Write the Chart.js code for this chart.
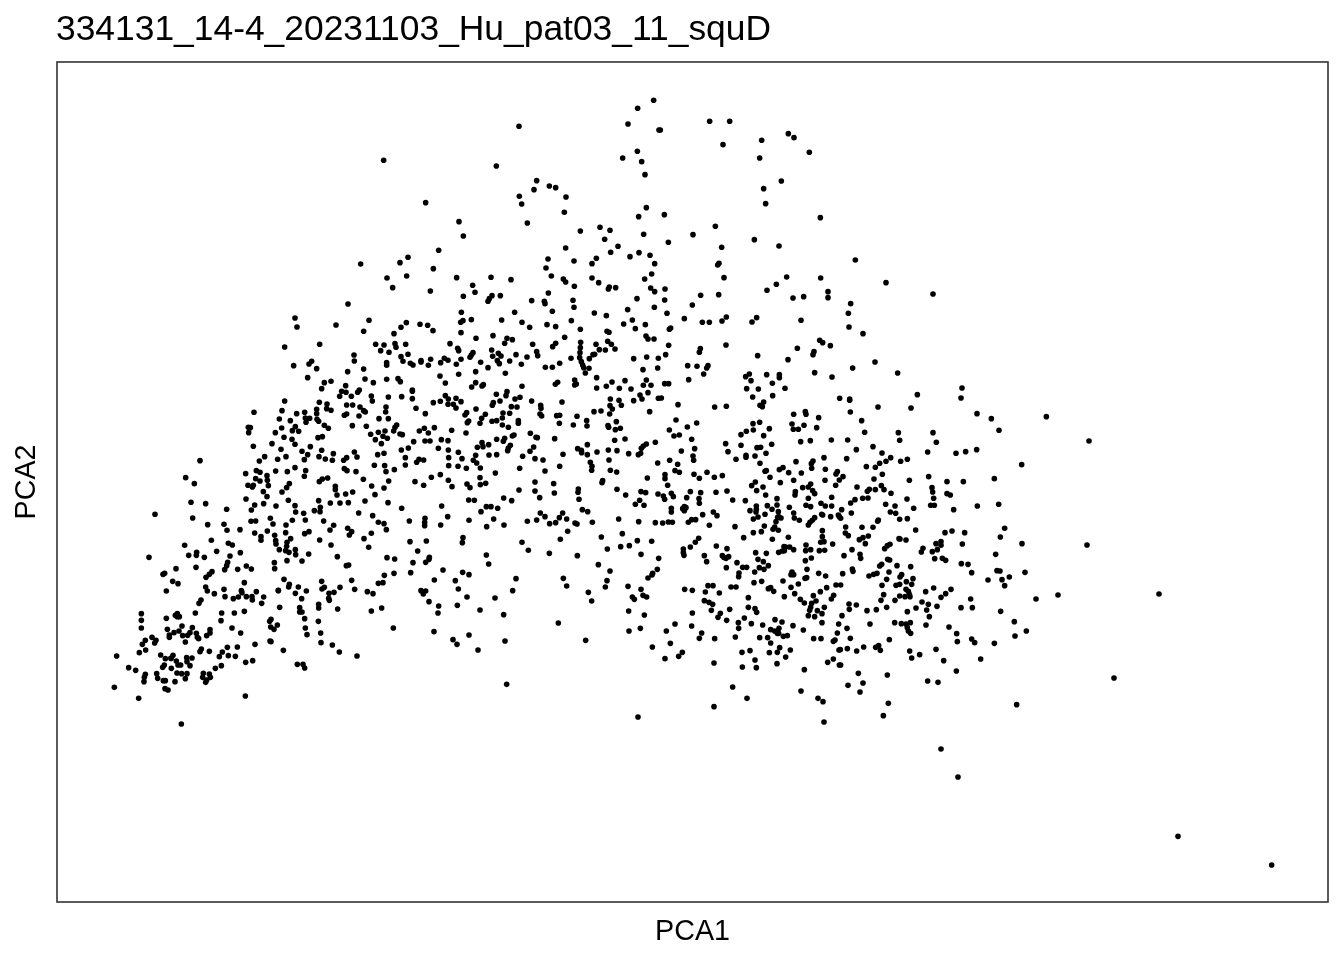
<!DOCTYPE html>
<html>
<head>
<meta charset="utf-8">
<style>html,body{margin:0;padding:0;background:#fff}canvas{display:block}</style>
<script src="https://cdn.jsdelivr.net/npm/chart.js@4"></script>
</head>
<body>
<canvas id="c" width="1344" height="960"></canvas>
<script>
const chartTitle = "334131_14-4_20231103_Hu_pat03_11_squD";
const xLabel = "PCA1";
const yLabel = "PCA2";
// [PCA1, PCA2] readings from the picture (arbitrary units: axes carry no ticks)
const leftWing = [[683,1665],[788,1673],[956,1673],[981,1671],[971,1654],[996,1649],[891,1641],[892,1623],[710,1609],[756,1614],[764,1622],[779,1600],[989,1618],[989,1610],[920,1599],[872,1591],[752,1573],[924,1569],[989,1568],[802,1558],[822,1562],[949,1558],[866,1549],[794,1540],[854,1532],[867,1529],[907,1536],[902,1529],[848,1517],[883,1517],[943,1518],[946,1503],[994,1515],[683,1503],[787,1499],[869,1491],[887,1491],[810,1494],[809,1480],[822,1475],[909,1485],[920,1474],[925,1470],[987,1485],[986,1470],[591,1469],[675,1474],[719,1465],[743,1469],[779,1478],[779,1465],[869,1464],[862,1460],[906,1458],[966,1450],[994,1450],[667,1449],[700,1444],[745,1452],[758,1451],[747,1439],[780,1448],[785,1442],[802,1430],[814,1421],[886,1429],[928,1427],[574,1424],[580,1423],[575,1408],[655,1408],[674,1422],[715,1426],[706,1414],[725,1412],[941,1403],[964,1409],[984,1413],[978,1397],[991,1391],[681,1394],[783,1393],[796,1396],[705,1388],[955,1387],[973,1375],[645,1375],[714,1373],[589,1367],[760,1366],[672,1358],[735,1352],[794,1355],[752,1342],[829,1345],[981,1346],[962,1342],[892,1350],[900,1335],[623,1336],[687,1336],[662,1328],[786,1336],[805,1329],[826,1325],[869,1333],[860,1325],[742,1327],[607,1323],[429,1324],[952,1310],[983,1309],[714,1303],[862,1300],[870,1294],[897,1291],[598,1294],[609,1289],[656,1293],[691,1291],[746,1294],[987,1291],[566,1285],[630,1279],[742,1277],[919,1268],[386,1273],[596,1270],[609,1263],[631,1265],[812,1272],[796,1269],[787,1261],[995,1263],[412,1255],[573,1250],[589,1250],[586,1245],[634,1249],[697,1255],[689,1243],[835,1247],[835,1237],[944,1248],[981,1242],[619,1231],[675,1230],[887,1230],[866,1224],[840,1221],[954,1222],[630,1216],[567,1209],[402,1199],[446,1195],[694,1205],[785,1204],[924,1203],[993,1198],[620,1195],[593,1191],[657,1188],[714,1189],[820,1197],[849,1197],[874,1198],[509,1178],[583,1176],[790,1184],[772,1174],[789,1171],[716,1170],[740,1166],[294,1163],[905,1167],[947,1159],[407,1152],[640,1151],[582,1142],[596,1143],[706,1145],[745,1146],[800,1143],[964,1139],[981,1135],[452,1132],[501,1133],[648,1134],[687,1131],[830,1130],[510,1115],[549,1117],[819,1116],[872,1121],[884,1111],[988,1117],[631,1113],[593,1107],[686,1108],[743,1105],[756,1111],[877,1101],[943,1106],[653,1100],[612,1096],[612,1085],[701,1090],[788,1086],[921,1090],[463,1085],[656,1084],[657,1074],[690,1079],[514,1076],[526,1071],[383,1070],[822,1071],[935,1064],[689,1067],[667,1057],[686,1054],[696,1049],[715,1057],[716,1042],[479,1052],[419,1049],[418,1040],[550,1048],[395,1040],[755,1044],[519,1038],[276,1034],[442,1034],[841,1036],[990,1033],[690,1024],[735,1023],[652,1018],[512,1019],[509,1009],[568,1008],[583,999],[417,1004],[357,1000],[503,997],[542,998],[653,1000],[868,1009],[875,1011],[465,991],[457,983],[447,974],[323,986],[318,983],[982,980],[681,968],[347,962],[363,955],[794,962],[884,965],[964,956],[978,958],[562,958],[697,953],[446,945],[451,933],[328,933],[501,938],[553,934],[555,928],[664,934],[695,945],[724,945],[715,926],[748,933],[664,935],[802,944],[795,939],[849,944],[893,938],[831,929],[816,926],[931,931],[948,925],[598,931],[472,925],[504,916],[568,916],[585,916],[544,915],[529,910],[586,906],[620,915],[734,910],[815,911],[817,905],[432,906],[426,896],[614,896],[668,884],[728,883],[842,879],[785,882],[974,882],[943,873],[735,870],[415,867],[494,867],[532,867],[562,872],[728,870],[785,893],[361,865],[361,856],[355,860],[367,856],[328,851],[642,848],[743,850],[253,865],[253,845],[492,844],[784,842],[638,842],[253,822],[661,831],[641,825],[651,818],[745,822],[331,818],[375,828],[366,813],[351,808],[406,823],[399,808],[392,800],[418,806],[421,794],[459,817],[459,807],[525,822],[551,807],[791,807],[750,802],[297,785],[285,794],[337,801],[337,794],[377,799],[449,799],[425,790],[265,785],[256,773],[293,777],[385,780],[639,783],[642,781],[792,778],[594,773],[826,771],[266,756],[247,748],[429,751],[433,759],[457,752],[511,764],[496,750],[514,739],[541,765],[679,755],[847,750],[348,740],[342,731],[311,741],[342,731],[325,730],[179,738],[487,736],[535,737],[900,738],[405,732],[389,733],[358,723],[371,711],[390,721],[566,719],[587,724],[493,709],[399,709],[363,711],[322,711],[317,704],[721,713],[738,713],[743,702],[215,703],[236,695],[343,701],[475,701],[360,687],[374,685],[390,685],[439,686],[299,685],[265,683],[262,674],[261,661],[302,671],[319,664],[325,664],[385,670],[437,674],[460,674],[457,684],[449,666],[446,659],[354,661],[172,644],[324,640],[333,636],[245,611],[565,618],[373,534]];
const upperMiddle = [[1790,2405],[1742,2381],[1713,2334],[1386,2327],[1806,2316],[1741,2252],[1697,2232],[980,2225],[1754,2221],[1318,2208],[1764,2182],[1439,2164],[1477,2148],[1496,2143],[1431,2137],[1387,2117],[1527,2115],[1394,2094],[1106,2098],[1522,2069],[1768,2083],[1745,2056],[1206,2041],[1411,2037],[1570,2013],[1629,2024],[1659,2015],[1219,1998],[1760,2003],[1643,1988],[1683,1967],[1145,1955],[1526,1962],[1661,1949],[1746,1948],[1779,1940],[1053,1934],[1719,1936],[1618,1931],[1473,1929],[1551,1923],[1029,1918],[911,1914],[1605,1915],[1793,1915],[1129,1900],[1467,1902],[1784,1884],[1483,1878],[1049,1878],[990,1872],[1199,1873],[1302,1874],[1362,1867],[1605,1872],[1519,1869],[1526,1860],[1625,1858],[1763,1869],[1247,1850],[1552,1847],[1007,1843],[1657,1845],[1654,1839],[1676,1843],[1781,1842],[1793,1831],[1120,1833],[1254,1829],[1474,1827],[1219,1817],[1305,1819],[1330,1819],[1297,1810],[1293,1802],[1424,1804],[1462,1802],[1464,1795],[1548,1805],[1740,1810],[1551,1784],[1792,1784],[1213,1769],[1373,1769],[1486,1772],[1712,1777],[1612,1767],[1648,1759],[936,1745],[1243,1747],[1218,1744],[1211,1739],[1334,1746],[1543,1744],[1726,1746],[1048,1738],[1395,1739],[1700,1734],[1765,1732],[1089,1733],[1112,1730],[1032,1724],[1470,1732],[1496,1726],[1418,1724],[1735,1720],[1128,1714],[920,1712],[1212,1708],[1011,1705],[1570,1718],[1650,1712],[1656,1709],[1308,1699],[1767,1698],[1773,1689],[1791,1689],[1257,1691],[1350,1691],[1366,1687],[1523,1694],[1652,1682],[1014,1675],[1017,1664],[1046,1673],[1179,1675],[1343,1676],[1427,1673],[1571,1679],[1663,1673],[1617,1673],[1202,1661],[1205,1654],[1304,1656],[1487,1666],[1496,1676],[1570,1663],[1674,1659],[1627,1657],[1645,1656],[1248,1648],[1243,1641],[1239,1634],[1324,1646],[1332,1638],[1439,1651],[1442,1639],[1569,1648],[1053,1643],[1307,1637],[1377,1642],[1410,1635],[1608,1642],[1613,1643],[1032,1636],[1121,1628],[1162,1631],[1173,1625],[1212,1628],[1271,1619],[1358,1623],[1542,1631],[1568,1633],[1597,1630],[1730,1630],[1769,1635],[1804,1631],[1038,1622],[1092,1624],[1092,1620],[1151,1618],[1321,1624],[1327,1615],[1573,1621],[1060,1616],[1068,1611],[1198,1613],[1114,1610],[1393,1613],[1293,1603],[1465,1604],[1486,1604],[1508,1616],[1577,1611],[1580,1603],[1596,1601],[1758,1597],[1802,1602],[1256,1591],[1345,1586],[1585,1587],[1149,1578],[1205,1583],[1619,1573],[1768,1566],[1553,1566],[1023,1570],[1030,1561],[1165,1557],[1256,1558],[1279,1552],[1275,1548],[1244,1545],[1395,1547],[1502,1559],[1495,1553],[1558,1554],[1665,1560],[1704,1564],[1648,1547],[1759,1550],[1782,1550],[1619,1542],[1687,1541],[1553,1551],[1722,1539],[1066,1536]];
const lowerMiddle = [[1066,1532],[1350,1531],[1034,1516],[1066,1510],[1318,1523],[1347,1519],[1389,1514],[1374,1509],[1749,1521],[1755,1509],[1660,1509],[1686,1505],[1773,1528],[1730,1504],[1424,1503],[1515,1500],[1150,1502],[1129,1498],[1173,1493],[1189,1493],[1212,1501],[1165,1519],[1197,1511],[1174,1509],[1329,1503],[1309,1498],[1306,1490],[1451,1490],[1452,1481],[1363,1486],[1380,1485],[1197,1482],[1257,1479],[1077,1481],[1659,1489],[1666,1479],[1693,1490],[1804,1511],[1658,1464],[1611,1471],[1632,1473],[1778,1471],[1105,1465],[1229,1468],[1224,1461],[1285,1463],[1338,1467],[1358,1466],[1336,1452],[1449,1464],[1454,1458],[1499,1459],[1508,1460],[1560,1457],[1274,1451],[1305,1442],[1319,1444],[1235,1443],[1231,1438],[1384,1444],[1384,1436],[1269,1436],[1336,1431],[1507,1436],[1549,1431],[1589,1444],[1590,1428],[1678,1441],[1653,1429],[1655,1424],[1354,1424],[1132,1423],[1102,1421],[1019,1431],[1010,1413],[1014,1424],[1087,1413],[1114,1407],[1184,1415],[1227,1407],[1690,1421],[1675,1417],[1371,1401],[1366,1398],[1420,1406],[1029,1404],[1036,1402],[1437,1394],[1441,1393],[1493,1390],[1319,1388],[1343,1391],[1339,1382],[1153,1387],[1173,1384],[1070,1381],[1104,1383],[1119,1383],[1673,1385],[1704,1389],[1591,1372],[1795,1379],[1275,1378],[1278,1366],[1295,1372],[1261,1364],[1360,1370],[1354,1362],[1352,1354],[1768,1374],[1759,1368],[1753,1361],[1144,1361],[1054,1362],[1033,1356],[1174,1356],[1430,1365],[1419,1352],[1562,1360],[1573,1355],[1574,1348],[1591,1342],[1620,1350],[1654,1356],[1680,1354],[1715,1345],[1518,1343],[1204,1349],[1256,1340],[1296,1341],[1319,1342],[1751,1346],[1744,1342],[1397,1337],[1045,1333],[1175,1333],[1215,1330],[1434,1330],[1458,1326],[1656,1326],[1249,1325],[1259,1317],[1086,1328],[1100,1326],[1079,1319],[1045,1311],[1175,1309],[1203,1307],[1228,1301],[1270,1302],[1388,1301],[1508,1307],[1600,1319],[1605,1307],[1604,1295],[1802,1317],[1012,1297],[1464,1293],[1660,1295],[1679,1290],[1315,1287],[1150,1282],[1123,1274],[1269,1273],[1771,1272],[1074,1261],[1174,1265],[1434,1260],[1490,1255],[1100,1250],[1185,1246],[1230,1254],[1239,1243],[1270,1252],[1286,1256],[1637,1264],[1635,1258],[1386,1236],[1434,1233],[1492,1227],[1564,1239],[1563,1229],[1680,1238],[1752,1231],[1766,1228],[1803,1224],[1706,1221],[1340,1212],[1448,1213],[1566,1208],[1235,1206],[1252,1205],[1364,1204],[1748,1205],[1735,1193],[1761,1190],[1154,1188],[1288,1186],[1302,1186],[1322,1181],[1034,1181],[1272,1171],[1576,1177],[1592,1171],[1450,1167],[1517,1167],[1464,1156],[1507,1153],[1172,1156],[1310,1149],[1529,1149],[1685,1149],[1104,1151],[1057,1143],[1236,1145],[1103,1139],[1103,1129],[1151,1131],[1411,1142],[1439,1146],[1478,1135],[1496,1138],[1554,1137],[1560,1134],[1606,1139],[1745,1141],[1795,1138],[1289,1126],[1341,1131],[1532,1112],[1696,1105],[1633,1095],[1218,1093],[1216,1078],[1510,1088],[1059,1081],[1108,1083],[1395,1079],[1741,1084],[1784,1082],[1691,1066],[1717,1069],[1651,1059],[1414,1055],[1082,1053],[1477,1046],[1561,1039],[1752,1043],[1288,1041],[1013,1029],[1117,1034],[1116,1028],[1106,1019],[1068,1018],[1295,1014],[1624,1012],[1805,1031],[1158,996],[1659,993],[1801,998],[1011,986],[1061,988],[1217,989],[1236,982],[1787,986],[1785,981],[1773,972],[1377,970],[1519,971],[1132,966],[1195,964],[1650,964],[1713,947],[1529,948],[1645,945],[1092,934],[1106,933],[1099,924],[1204,939],[1367,934],[1752,938],[1594,929],[1758,920],[1769,915],[1230,915],[1314,912],[1726,915],[1732,908],[1604,903],[1116,901],[1145,888],[1201,890],[1715,873],[1269,876],[1143,867],[1340,862],[1762,861],[1009,822],[1504,837],[1131,811],[1750,821],[1716,813],[1236,801],[1188,787],[1200,773],[1344,783],[1586,785],[1786,765],[1263,756],[1349,653],[1743,555]];
const upperRight = [[1958,2342],[2018,2342],[1810,2316],[2194,2305],[2211,2293],[2114,2285],[1998,2272],[2257,2249],[2108,2232],[2173,2163],[2120,2140],[2126,2095],[1822,2062],[2290,2053],[1975,2027],[1908,2002],[1834,1979],[2092,1987],[2166,1968],[1994,1964],[2395,1926],[1986,1916],[1982,1911],[2001,1873],[2189,1875],[2291,1872],[2158,1853],[2487,1858],[1824,1839],[2130,1835],[2313,1831],[1931,1820],[1985,1822],[2628,1824],[1823,1806],[2208,1812],[2240,1816],[2313,1813],[1906,1791],[2381,1795],[1830,1766],[2374,1766],[1882,1750],[1936,1739],[1957,1739],[1995,1743],[2008,1755],[2085,1740],[2099,1753],[2232,1745],[2376,1725],[1841,1722],[1837,1718],[2418,1705],[2288,1685],[2297,1678],[1835,1670],[2007,1671],[2320,1669],[1930,1660],[1927,1649],[2221,1661],[2271,1651],[2268,1642],[1826,1642],[2102,1639],[2193,1627],[2454,1620],[1892,1609],[1920,1607],[1953,1609],[1949,1602],[2387,1602],[1940,1584],[2077,1584],[2066,1576],[2167,1582],[2167,1573],[2129,1582],[2273,1588],[2522,1587],[2325,1575],[1895,1567],[2082,1564],[1823,1555],[1835,1555],[2146,1556],[2069,1540],[2104,1539],[2184,1541],[2087,1515],[2147,1519],[2581,1522],[1813,1512],[2348,1511],[2378,1509]];
const centreRight = [[1863,1492],[1973,1485],[2008,1487],[2120,1500],[2109,1490],[2116,1486],[2245,1471],[2247,1463],[2210,1463],[2285,1453],[1857,1446],[2088,1435],[2108,1439],[1919,1437],[2205,1434],[2241,1430],[1891,1425],[1837,1416],[2137,1420],[2089,1416],[2068,1412],[2209,1418],[2224,1418],[2279,1423],[2052,1402],[1851,1398],[1867,1401],[2120,1399],[1904,1388],[2231,1381],[2260,1384],[2323,1386],[2006,1375],[2052,1370],[2144,1373],[2100,1363],[2111,1364],[1913,1360],[1873,1353],[2013,1351],[2127,1346],[2067,1340],[2067,1334],[2094,1338],[2037,1328],[1908,1338],[1910,1325],[1838,1325],[2217,1321],[2268,1323],[2263,1315],[2301,1333],[1862,1313],[2109,1316],[2264,1301],[2305,1298],[1854,1294],[1867,1289],[1950,1289],[2128,1294],[2124,1292],[2167,1297],[2178,1303],[2195,1288],[2233,1287],[2341,1291],[2337,1284],[1911,1283],[1824,1282],[1824,1270],[1927,1271],[1972,1274],[1996,1279],[2139,1274],[2210,1265],[2304,1265],[2347,1266],[2095,1260],[2084,1249],[2170,1258],[2261,1254],[2237,1243],[2254,1245],[2336,1250],[1832,1250],[2118,1245],[2099,1234],[1900,1231],[1977,1229],[2010,1233],[2215,1231],[2267,1234],[2273,1225],[1931,1228],[1843,1226],[1849,1216],[2214,1221],[1819,1218],[1823,1208],[1889,1213],[1926,1210],[1927,1196],[2027,1206],[2065,1204],[2126,1221],[2160,1210],[2254,1211],[2324,1214],[2292,1196],[2305,1188],[2324,1188],[2247,1190],[2261,1186],[2160,1191],[2131,1189],[2145,1178],[2197,1184],[2098,1188],[2098,1178],[2097,1170],[2079,1174],[2164,1171],[1843,1181],[1843,1170],[1882,1186],[1877,1180],[1887,1183],[1882,1174],[1969,1170],[2210,1167],[1980,1159],[1937,1162],[2124,1163],[2165,1156],[2103,1155],[2089,1149],[2162,1154],[2172,1152],[2157,1141],[2212,1152],[2227,1145],[2297,1161],[2294,1163],[2321,1156],[2344,1161],[2347,1156],[2273,1153],[2266,1145],[2259,1139],[2254,1131],[1817,1137],[1834,1140],[1846,1139],[1894,1139],[1904,1147],[1916,1147],[1957,1130],[2122,1128],[2034,1126],[2153,1125],[2148,1118],[2164,1115],[2296,1114],[2089,1108],[2113,1111],[2296,1096],[2194,1094],[2060,1093],[2146,1088],[1925,1091],[1915,1079],[1900,1065],[1879,1059],[1879,1048],[1881,1040],[2291,1079],[2301,1081],[2327,1074],[1978,1068],[2010,1060],[2181,1066],[2186,1065],[2198,1065],[2210,1057],[2247,1071],[2246,1054],[2261,1057],[2287,1054],[2303,1055],[2176,1053],[2165,1049],[2182,1054],[2096,1048],[2128,1046],[1942,1039],[1996,1039],[2000,1034],[2015,1036],[2007,1031],[2263,1032],[2245,1024],[2103,1028],[2119,1021],[1949,1021],[2040,1018],[2134,1009],[2008,1003],[2107,1003],[2121,998],[2057,1004],[2069,1004],[2250,998],[2093,990],[2205,990],[2210,982],[2285,986],[2306,978],[2046,987],[2045,976],[2202,982],[2249,973],[2178,963],[2091,958],[2114,962],[2244,971],[2224,954],[1953,949],[1968,949],[2022,945],[2037,945],[2202,944],[2337,951],[2309,943],[1883,938],[1906,935],[2134,940],[2141,943],[2150,932],[2290,931],[1945,930],[1987,927],[2213,925],[2182,916],[2269,919],[2330,920],[2323,909],[2074,913],[2230,908],[1942,904],[1956,899],[1967,893],[2277,903],[2242,897],[2264,896],[2074,884],[2261,884],[2302,884],[1963,875],[2018,878],[2094,880],[2099,869],[2258,875],[2281,874],[2295,865],[1990,866],[1983,854],[1906,867],[2254,859],[2273,856],[2062,852],[2009,845],[2154,847],[2295,838],[2044,838],[2175,840],[2083,835],[1854,834],[1904,828],[2117,831],[2208,829],[2345,834],[2045,821],[2141,817],[2153,813],[2166,821],[2239,816],[1828,813],[1934,807],[2161,806],[2165,806],[2341,807],[2179,797],[2191,799],[2035,795],[1927,791],[1973,790],[2108,793],[2132,793],[2270,790],[2292,790],[2334,786],[2329,782],[1840,776],[2141,777],[2168,763],[2200,756],[1876,749],[2055,749],[2079,754],[2137,748],[2161,749],[2346,756],[1865,737],[1824,730],[2186,735],[2094,726],[2329,729],[1971,717],[2160,715],[2312,719],[2347,711],[2056,705],[2098,703],[2242,697],[2027,645],[2232,633],[2070,611],[2283,611],[2298,601],[1971,586],[2301,540]];
const lowerRight = [[2463,1485],[2562,1482],[2378,1505],[2380,1470],[2760,1465],[2803,1450],[2968,1456],[2414,1444],[2423,1409],[2524,1408],[2628,1408],[2826,1415],[2372,1386],[2528,1385],[2638,1379],[2448,1366],[2398,1357],[2475,1347],[2612,1350],[2697,1346],[2726,1351],[2759,1357],[2369,1330],[2501,1333],[2487,1322],[2468,1316],[2531,1322],[2551,1328],[2455,1304],[2428,1306],[2894,1312],[2476,1283],[2358,1276],[2451,1269],[2615,1276],[2557,1265],[2670,1261],[2719,1261],[2812,1270],[2400,1245],[2473,1249],[2481,1237],[2455,1237],[2437,1238],[2431,1232],[2625,1243],[2627,1230],[2502,1226],[2670,1225],[2680,1221],[2417,1211],[2433,1212],[2394,1207],[2381,1197],[2550,1209],[2630,1211],[2486,1193],[2514,1188],[2570,1181],[2621,1190],[2632,1190],[2825,1193],[2761,1188],[2690,1177],[2354,1177],[2383,1167],[2500,1170],[2516,1166],[2351,1151],[2528,1148],[2551,1150],[2464,1146],[2462,1142],[2366,1125],[2415,1124],[2448,1124],[2576,1116],[2843,1121],[2664,1108],[2685,1113],[2723,1108],[2365,1107],[2374,1099],[2830,1095],[2434,1098],[2418,1093],[2407,1087],[2526,1090],[2529,1089],[2547,1086],[2425,1075],[2499,1073],[2491,1069],[2483,1060],[2895,1075],[2652,1081],[2637,1075],[2652,1070],[2716,1074],[2598,1061],[2593,1050],[2641,1057],[2626,1051],[2385,1057],[2361,1039],[2409,1043],[2411,1031],[2816,1043],[2492,1028],[2498,1026],[2633,1030],[2656,1031],[2666,1025],[2713,1015],[2733,1013],[2474,1013],[2468,1008],[2520,1009],[2561,1006],[2386,999],[2388,992],[2496,990],[2357,985],[2744,988],[2820,994],[2829,993],[2904,989],[2436,978],[2450,983],[2460,986],[2534,982],[2529,975],[2568,970],[2857,975],[2489,968],[2548,961],[2793,966],[2835,967],[2564,953],[2528,953],[2517,950],[2475,950],[2351,951],[2630,942],[2682,938],[2843,949],[2547,938],[2554,932],[2606,931],[2666,925],[2480,922],[2557,923],[2544,916],[2528,918],[2559,916],[2652,914],[2472,905],[2514,905],[2741,909],[2595,900],[2376,894],[2398,891],[2614,893],[2640,887],[2489,884],[2577,882],[2712,883],[2746,883],[2377,878],[2430,874],[2458,877],[2609,876],[2551,871],[2831,872],[2355,859],[2617,856],[2513,838],[2533,835],[2547,834],[2560,838],[2439,834],[2607,831],[2872,841],[2676,825],[2370,821],[2551,823],[2554,813],[2561,806],[2908,813],[2699,805],[2874,798],[2380,791],[2497,787],[2744,789],[2753,778],[2701,781],[2812,776],[2350,757],[2371,760],[2399,753],[2420,765],[2456,764],[2465,769],[2470,755],[2558,753],[2637,758],[2588,742],[2564,732],[2660,724],[2771,729],[2351,711],[2404,686],[2491,681],[2698,693],[2612,663],[2643,659],[2418,657],[2373,650],[2409,630],[2494,596],[2879,592],[2479,559]];
const outliers = [[3096,1383],[3090,1071],[3003,921],[2937,909],[3306,924],[3171,672],[2652,459],[2703,375],[3363,197],[3644,111],[2715,1542],[2712,1512],[714,1752],[720,1725],[837,1731],[873,1794]];

const pointPairs = [...leftWing, ...upperMiddle, ...lowerMiddle, ...upperRight, ...centreRight, ...lowerRight, ...outliers];

const frame = {
  id: 'frame',
  afterLayout(chart){ chart.titleBlock.left = 56; },
  afterDatasetsDraw(chart){
    const a = chart.chartArea, c = chart.ctx;
    c.save(); c.strokeStyle = '#333333'; c.lineWidth = 1.6;
    c.strokeRect(a.left, a.top, a.right - a.left, a.bottom - a.top);
    c.restore();
  }
};
Chart.defaults.font.family = '"Liberation Sans", Arial, sans-serif';
new Chart(document.getElementById('c'), {
  type: 'scatter',
  plugins: [frame],
  data: { datasets: [{
    data: pointPairs.map(p => ({x: p[0], y: p[1]})),
    backgroundColor: '#000', borderColor: '#000', borderWidth: 0, pointRadius: 2.8, pointHoverRadius: 2.8
  }]},
  options: {
    responsive: false, animation: false,
    layout: { padding: { left: 0, right: 16, top: 0, bottom: 0 } },
    plugins: {
      legend: { display: false }, tooltip: { enabled: false },
      title: { display: true, text: chartTitle, align: 'start', color: '#000',
        font: { size: 35.4, weight: 'normal' }, padding: { top: 9, bottom: 10.5 } }
    },
    scales: {
      x: { min: 0, max: 3813, grid: { display: false }, border: { display: false },
        ticks: { display: false },
        afterFit(s){ s.height = 58; },
        title: { display: true, text: xLabel, color: '#000', font: { size: 28.7, weight: 'normal' }, padding: { top: 9, bottom: 11 } } },
      y: { min: 0, max: 2520, grid: { display: false }, border: { display: false },
        ticks: { display: false },
        afterFit(s){ s.width = 57; },
        title: { display: true, text: yLabel, color: '#000', font: { size: 28.7, weight: 'normal' }, padding: { top: 10, bottom: 0 } } }
    }
  }
});
</script>
</body>
</html>
